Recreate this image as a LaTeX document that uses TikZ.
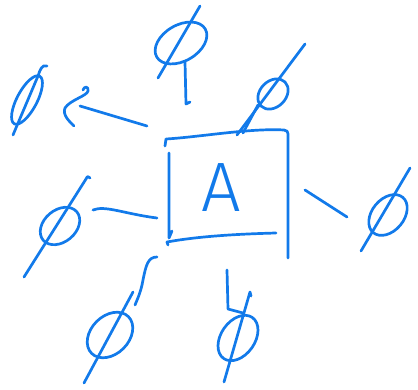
\documentclass[tikz,border=0pt]{standalone}
\usepackage{fontspec}
\newfontfamily\handfont{Fira Sans Light}
\definecolor{inkblue}{RGB}{18,122,234}
\tikzset{ink/.style={draw=inkblue, line width=2.7pt, line cap=round, line join=round},
  letter/.style={text=inkblue, font=\handfont\fontsize{70}{70}\selectfont, inner sep=0pt}}
\begin{document}
\begin{tikzpicture}[x=1pt,y=-1pt]
\useasboundingbox (0,0) rectangle (418,390);
% box
\node[letter] (A) at (221,188) {A};
\coordinate (tl) at (166,139);
\coordinate (tr) at (288,134);
\coordinate (br) at (288,258);
\draw[ink] (165,146) -- (tl) .. controls (200,137) and (250,128) .. (284,130) .. controls (287,130) and (288,132) .. (tr) -- (br);
\draw[ink] (169,153) -- (169,238) -- (172,231);
\draw[ink] (168,245) -- (167,242) .. controls (200,236) and (240,234) .. (276,233);
% empty sets
\coordinate (e1) at (181,43);
\coordinate (e2) at (273,94);
\coordinate (e3) at (27,100);
\coordinate (e4) at (60,226);
\coordinate (e5) at (388,215);
\coordinate (e6) at (110,335);
\coordinate (e7) at (238,338);
\draw[ink, rotate around={30:(e1)}] (e1) ellipse [x radius=28, y radius=18];
\draw[ink, rotate around={45:(e2)}] (e2) ellipse [x radius=17, y radius=13];
\draw[ink, rotate around={62:(e3)}] (e3) ellipse [x radius=27, y radius=10];
\draw[ink, rotate around={40:(e4)}] (e4) ellipse [x radius=22, y radius=16];
\draw[ink, rotate around={50:(e5)}] (e5) ellipse [x radius=23, y radius=16];
\draw[ink, rotate around={45:(e6)}] (e6) ellipse [x radius=26, y radius=19];
\draw[ink, rotate around={55:(e7)}] (e7) ellipse [x radius=25, y radius=17];
% slashes
\draw[ink] (200,6) -- (158,78);
\draw[ink] (305,44) -- (237,135);
\draw[ink] (258,105) -- (243,133);
\draw[ink] (47,66) .. controls (42,64) and (40,70) .. (38,76) -- (13,135);
\draw[ink] (90,178) .. controls (89,176) and (87,176) .. (86,179) -- (24,277);
\draw[ink] (410,168) -- (361,251);
\draw[ink] (133,292) -- (84,383);
\draw[ink] (251,296) -- (250,292) -- (224,382);
% connectors
\draw[ink] (185,62) -- (186,104) -- (190,102);
\draw[ink] (147,126) -- (80,106);
\draw[ink] (83,90) .. controls (84,86) and (89,86) .. (88,91) .. controls (87,96) and (70,100) .. (65,108) .. controls (62,115) and (70,122) .. (74,126);
\draw[ink] (93,210) .. controls (105,205) and (125,214) .. (157,218);
\draw[ink] (305,190) -- (347,217);
\draw[ink] (157,257) .. controls (148,257) and (146,265) .. (143,280) .. controls (141,292) and (137,300) .. (135,305);
\draw[ink] (227,270) -- (228,309) -- (243,313);
\end{tikzpicture}
\end{document}
